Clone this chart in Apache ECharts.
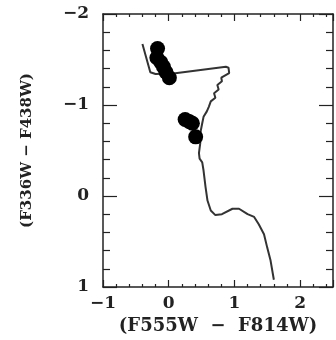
<!DOCTYPE html>
<html>
<head>
<meta charset="utf-8">
<script src="https://cdn.jsdelivr.net/npm/echarts@6/dist/echarts.min.js"></script>
<style>
html, body { margin: 0; padding: 0; background: #fff; }
#draw { width: 336px; height: 340px; }
</style>
</head>
<body>
<div id="draw"></div>
<script>
// track (x = F555W-F814W, y = F336W-F438W)
var trackX = [-0.40, -0.28, -0.20, 0.10, 0.87, 0.91, 0.92, 0.80, 0.81, 0.74, 0.76, 0.69, 0.71, 0.64, 0.61, 0.58,
	0.53, 0.51, 0.48, 0.48, 0.46, 0.47, 0.51, 0.53, 0.56, 0.59, 0.64, 0.71, 0.81, 0.97, 1.07, 1.20, 1.30, 1.37,
	1.45, 1.50, 1.55, 1.60];
var trackY = [-1.67, -1.36, -1.34, -1.35, -1.42, -1.41, -1.35, -1.30, -1.26, -1.22, -1.17, -1.13, -1.08, -1.04,
	-0.98, -0.93, -0.87, -0.80, -0.69, -0.58, -0.47, -0.41, -0.37, -0.28, -0.10, 0.05, 0.16, 0.21, 0.20, 0.14,
	0.14, 0.20, 0.23, 0.31, 0.42, 0.57, 0.71, 0.92];
// black dots
var dotX = [-0.17, -0.18, -0.12, -0.08, -0.04, 0.01, 0.25, 0.31, 0.36, 0.41];
var dotY = [-1.62, -1.52, -1.47, -1.42, -1.36, -1.30, -0.84, -0.82, -0.80, -0.65];

var xName = '(F555W  \u2212  F814W)';
var yName = '(F336W \u2212 F438W)';

var font = 'DejaVu Serif';
var ink = '#222';

var trackData = trackX.map(function(x, i) { return [x, trackY[i]]; });
var dotData = dotX.map(function(x, i) { return [x, dotY[i]]; });

var myChart = echarts.init(document.getElementById('draw'));

var minus = function(v) { return v < 0 ? '\u2212' + (-v) : String(v); };

var xBase = {
	type : 'value',
	min : -1,
	max : 2.5,
	interval : 1,
	axisLine : { show : true, onZero : false, lineStyle : { color : ink, width : 1.5 } },
	axisTick : { show : true, inside : true, length : 7, lineStyle : { color : ink, width : 1.2 } },
	minorTick : { show : true, splitNumber : 5, length : 3, lineStyle : { color : ink, width : 1.2 } },
	splitLine : { show : false }
};
var yBase = {
	type : 'value',
	min : -2,
	max : 1,
	interval : 1,
	inverse : true,
	axisLine : { show : true, onZero : false, lineStyle : { color : ink, width : 1.5 } },
	axisTick : { show : true, inside : true, length : 14, lineStyle : { color : ink, width : 1.2 } },
	minorTick : { show : true, splitNumber : 5, length : 7, lineStyle : { color : ink, width : 1.2 } },
	splitLine : { show : false }
};

option = {
	animation : false,
	backgroundColor : '#fff',
	grid : { left : 103, right : 3, top : 14, bottom : 53 },
	xAxis : [
		echarts.util.merge({
			position : 'bottom',
			name : xName,
			nameLocation : 'middle',
			nameGap : 30,
			nameTextStyle : { fontFamily : font, fontWeight : 'bold', fontSize : 18, color : ink },
			axisLabel : {
				fontFamily : font, fontWeight : 'bold', fontSize : 17, color : ink, margin : 8,
				showMaxLabel : false,
				formatter : function(v) { return v === 2.5 ? '' : minus(v); }
			}
		}, xBase, true),
		echarts.util.merge({ position : 'top', axisLabel : { show : false } }, xBase, true)
	],
	yAxis : [
		echarts.util.merge({
			position : 'left',
			name : yName,
			nameLocation : 'middle',
			nameGap : 68,
			nameRotate : 90,
			nameTextStyle : { fontFamily : font, fontWeight : 'bold', fontSize : 15, color : ink },
			axisLabel : {
				fontFamily : font, fontWeight : 'bold', fontSize : 17, color : ink, margin : 14,
				formatter : minus
			}
		}, yBase, true),
		echarts.util.merge({ position : 'right', axisLabel : { show : false } }, yBase, true)
	],
	series : [ {
		type : 'line',
		data : trackData,
		showSymbol : false,
		symbol : 'none',
		lineStyle : { color : '#333', width : 2 },
		z : 2
	}, {
		type : 'scatter',
		data : dotData,
		symbolSize : 15,
		itemStyle : { color : '#000', opacity : 1 },
		z : 3
	} ]
};
myChart.setOption(option);
</script>
</body>
</html>
